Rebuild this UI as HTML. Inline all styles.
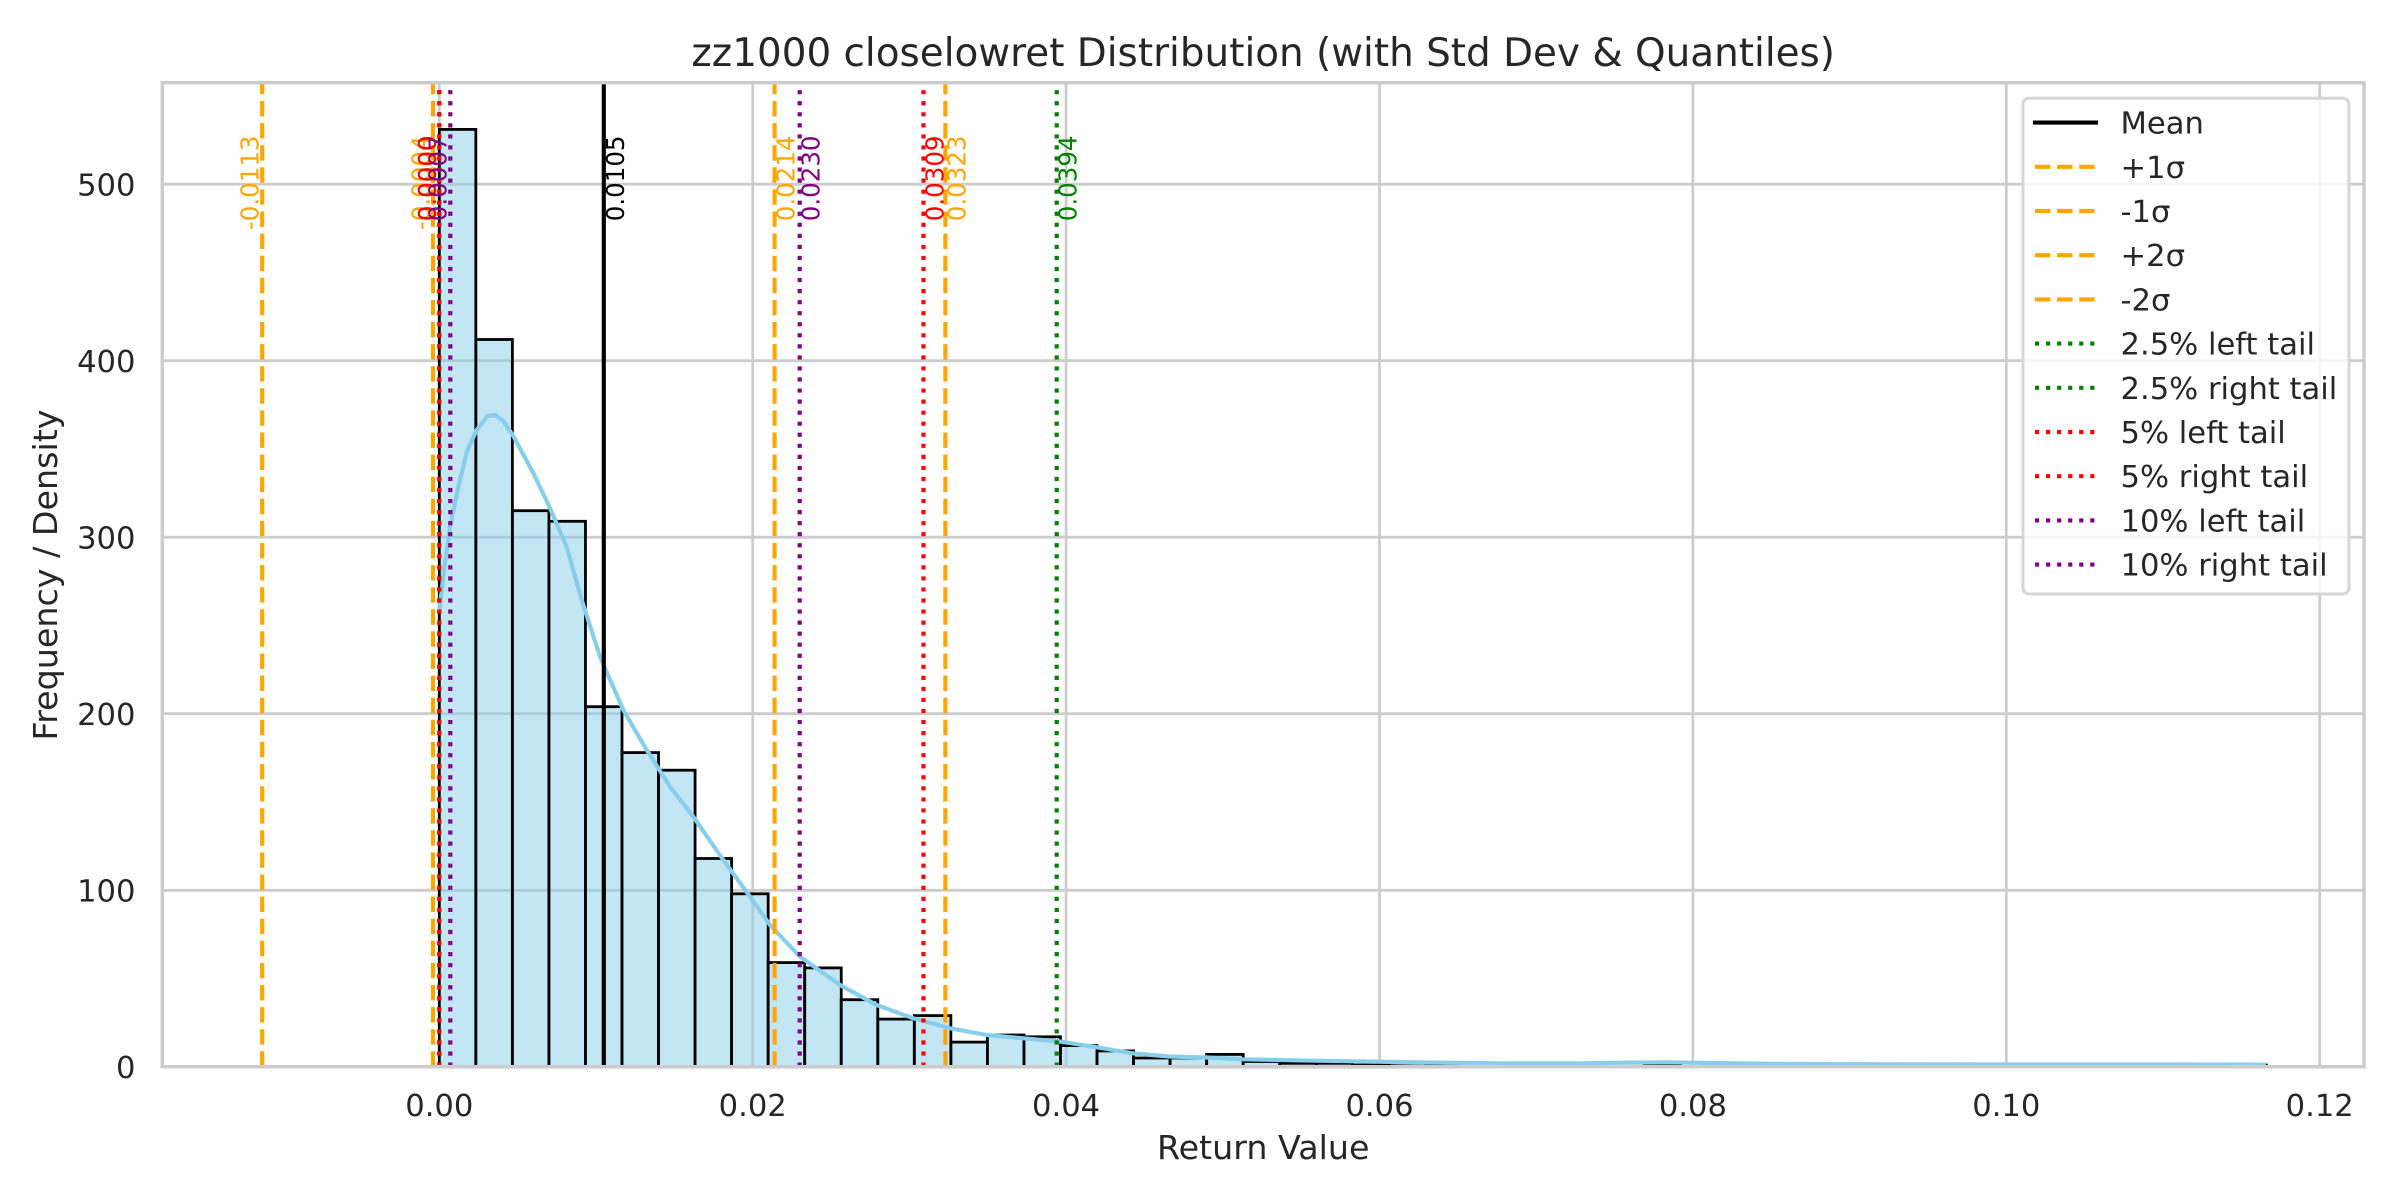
<!DOCTYPE html>
<html>
<head>
<meta charset="utf-8">
<style>
  html,body{margin:0;padding:0;background:#fff;}
  svg{display:block;}
  text{font-family:"DejaVu Sans","Liberation Sans",sans-serif;}
</style>
</head>
<body>
<svg width="2400" height="1200" viewBox="0 0 2400 1200" xmlns="http://www.w3.org/2000/svg">
  <rect x="0" y="0" width="2400" height="1200" fill="#ffffff"/>

  <!-- grid -->
  <g stroke="#cccccc" stroke-width="2.78">
    <line x1="439.3" y1="82.7" x2="439.3" y2="1066.7"/>
    <line x1="752.7" y1="82.7" x2="752.7" y2="1066.7"/>
    <line x1="1066.1" y1="82.7" x2="1066.1" y2="1066.7"/>
    <line x1="1379.5" y1="82.7" x2="1379.5" y2="1066.7"/>
    <line x1="1692.9" y1="82.7" x2="1692.9" y2="1066.7"/>
    <line x1="2006.3" y1="82.7" x2="2006.3" y2="1066.7"/>
    <line x1="2319.7" y1="82.7" x2="2319.7" y2="1066.7"/>
    <line x1="162.3" y1="890.3" x2="2364" y2="890.3"/>
    <line x1="162.3" y1="713.7" x2="2364" y2="713.7"/>
    <line x1="162.3" y1="537.2" x2="2364" y2="537.2"/>
    <line x1="162.3" y1="360.7" x2="2364" y2="360.7"/>
    <line x1="162.3" y1="184.2" x2="2364" y2="184.2"/>
  </g>

  <!-- histogram bars -->
  <g fill="rgb(135,206,235)" fill-opacity="0.5" stroke="#000000" stroke-width="2.8">
    <rect x="439.3" y="129.4" width="36.54" height="937.4"/>
    <rect x="475.84" y="339.5" width="36.54" height="727.3"/>
    <rect x="512.38" y="510.7" width="36.54" height="556.1"/>
    <rect x="548.92" y="521.3" width="36.54" height="545.5"/>
    <rect x="585.46" y="706.7" width="36.54" height="360.1"/>
    <rect x="622.0" y="752.6" width="36.54" height="314.2"/>
    <rect x="658.54" y="770.2" width="36.54" height="296.6"/>
    <rect x="695.08" y="858.5" width="36.54" height="208.3"/>
    <rect x="731.62" y="893.8" width="36.54" height="173.0"/>
    <rect x="768.16" y="962.6" width="36.54" height="104.2"/>
    <rect x="804.7" y="967.9" width="36.54" height="98.9"/>
    <rect x="841.24" y="999.7" width="36.54" height="67.1"/>
    <rect x="877.78" y="1019.1" width="36.54" height="47.7"/>
    <rect x="914.32" y="1015.6" width="36.54" height="51.2"/>
    <rect x="950.86" y="1042.1" width="36.54" height="24.7"/>
    <rect x="987.4" y="1035.0" width="36.54" height="31.8"/>
    <rect x="1023.94" y="1036.8" width="36.54" height="30.0"/>
    <rect x="1060.48" y="1045.6" width="36.54" height="21.2"/>
    <rect x="1097.02" y="1050.9" width="36.54" height="15.9"/>
    <rect x="1133.56" y="1058.0" width="36.54" height="8.8"/>
    <rect x="1170.1" y="1058.0" width="36.54" height="8.8"/>
    <rect x="1206.64" y="1054.4" width="36.54" height="12.4"/>
    <rect x="1243.18" y="1061.5" width="36.54" height="5.3"/>
    <rect x="1279.72" y="1063.3" width="36.54" height="3.5"/>
    <rect x="1316.26" y="1063.3" width="36.54" height="3.5"/>
    <rect x="1352.8" y="1065.0" width="36.54" height="1.8"/>
    <rect x="1389.34" y="1063.3" width="36.54" height="3.5"/>
    <rect x="1425.88" y="1065.0" width="36.54" height="1.8"/>
    <rect x="1462.42" y="1065.0" width="36.54" height="1.8"/>
    <rect x="1644.12" y="1065.0" width="36.54" height="1.8"/>
    <rect x="2229.76" y="1065.0" width="36.54" height="1.8"/>
  </g>

  <!-- KDE -->
  <polyline fill="none" stroke="#87ceeb" stroke-width="4.17" stroke-linejoin="round" stroke-linecap="butt"
    points="439.3,611.7 442,588 445,563 450,527 457,493 466.7,452 476.7,430 487.3,416 495,415 503.3,421 513.3,436 533.3,473 550,508 566.7,547 581.7,600 600,656.7 623.3,710 646.7,750 670,786.7 693.3,816.7 723.3,860 750,896.7 770,925 800,956.7 840,985 876.7,1005 913.3,1018.3 950,1028.3 986.7,1035 1023.3,1038.3 1060,1041.5 1096.7,1047.3 1134.3,1053.5 1169.3,1056.5 1206.7,1057.5 1242.7,1059.3 1315.3,1060.7 1379.3,1061.7 1425.7,1062.5 1500,1063.3 1580,1063.3 1640,1062.5 1670,1062.3 1710,1063 1780,1063.8 1900,1064.3 2266,1064.6"/>

  <!-- vertical reference lines (drawn bottom to top) -->
  <g stroke-width="4.17" fill="none">
    <line x1="603.8" y1="1066.7" x2="603.8" y2="82.7" stroke="#000000"/>
    <line x1="774.6" y1="1066.7" x2="774.6" y2="82.7" stroke="#ffa500" stroke-dasharray="15.4 6.7"/>
    <line x1="433.0" y1="1066.7" x2="433.0" y2="82.7" stroke="#ffa500" stroke-dasharray="15.4 6.7"/>
    <line x1="945.4" y1="1066.7" x2="945.4" y2="82.7" stroke="#ffa500" stroke-dasharray="15.4 6.7"/>
    <line x1="262.2" y1="1066.7" x2="262.2" y2="82.7" stroke="#ffa500" stroke-dasharray="15.4 6.7"/>
    <line x1="439.3" y1="1066.7" x2="439.3" y2="82.7" stroke="#008000" stroke-dasharray="4.17 6.88"/>
    <line x1="1056.7" y1="1066.7" x2="1056.7" y2="82.7" stroke="#008000" stroke-dasharray="4.17 6.88"/>
    <line x1="439.3" y1="1066.7" x2="439.3" y2="82.7" stroke="#ff0000" stroke-dasharray="4.17 6.88"/>
    <line x1="923.5" y1="1066.7" x2="923.5" y2="82.7" stroke="#ff0000" stroke-dasharray="4.17 6.88"/>
    <line x1="450.3" y1="1066.7" x2="450.3" y2="82.7" stroke="#800080" stroke-dasharray="4.17 6.88"/>
    <line x1="799.7" y1="1066.7" x2="799.7" y2="82.7" stroke="#800080" stroke-dasharray="4.17 6.88"/>
  </g>

  <!-- spines -->
  <rect x="162.3" y="82.7" width="2201.7" height="984" fill="none" stroke="#cccccc" stroke-width="3.47"/>

  <!-- rotated value labels -->
  <g font-size="24.5" text-anchor="end">
    <text transform="translate(623.8,135.5) rotate(-90)" fill="#000000">0.0105</text>
    <text transform="translate(794.6,135.5) rotate(-90)" fill="#ffa500">0.0214</text>
    <text transform="translate(429.5,135.5) rotate(-90)" fill="#ffa500">-0.0004</text>
    <text transform="translate(965.4,135.5) rotate(-90)" fill="#ffa500">0.0323</text>
    <text transform="translate(258.7,135.5) rotate(-90)" fill="#ffa500">-0.0113</text>
    <text transform="translate(435.8,135.5) rotate(-90)" fill="#008000">0.0000</text>
    <text transform="translate(1076.7,135.5) rotate(-90)" fill="#008000">0.0394</text>
    <text transform="translate(435.8,135.5) rotate(-90)" fill="#ff0000">0.0000</text>
    <text transform="translate(943.5,135.5) rotate(-90)" fill="#ff0000">0.0309</text>
    <text transform="translate(446.3,135.5) rotate(-90)" fill="#800080">0.0007</text>
    <text transform="translate(819.7,135.5) rotate(-90)" fill="#800080">0.0230</text>
  </g>

  <!-- tick labels -->
  <g font-size="30.6" fill="#262626" text-anchor="middle">
    <text x="439.3" y="1116">0.00</text>
    <text x="752.7" y="1116">0.02</text>
    <text x="1066.1" y="1116">0.04</text>
    <text x="1379.5" y="1116">0.06</text>
    <text x="1692.9" y="1116">0.08</text>
    <text x="2006.3" y="1116">0.10</text>
    <text x="2319.7" y="1116">0.12</text>
  </g>
  <g font-size="30.6" fill="#262626" text-anchor="end">
    <text x="135.5" y="1078">0</text>
    <text x="135.5" y="901.5">100</text>
    <text x="135.5" y="725">200</text>
    <text x="135.5" y="548.4">300</text>
    <text x="135.5" y="371.9">400</text>
    <text x="135.5" y="195.4">500</text>
  </g>

  <!-- axis labels and title -->
  <text x="1263.2" y="1159" font-size="33.3" fill="#262626" text-anchor="middle">Return Value</text>
  <text transform="translate(57,575) rotate(-90)" font-size="33.3" fill="#262626" text-anchor="middle">Frequency / Density</text>
  <text x="1263.2" y="66" font-size="38.9" fill="#262626" text-anchor="middle">zz1000 closelowret Distribution (with Std Dev &amp; Quantiles)</text>

  <!-- legend -->
  <rect x="2023" y="98.3" width="326" height="495.7" rx="6" ry="6" fill="#ffffff" fill-opacity="0.8" stroke="#d6d6d6" stroke-width="3"/>
  <g stroke-width="4.17" fill="none">
    <line x1="2033" y1="122.6" x2="2098" y2="122.6" stroke="#000000"/>
    <line x1="2035" y1="166.8" x2="2096" y2="166.8" stroke="#ffa500" stroke-dasharray="15.4 6.7"/>
    <line x1="2035" y1="211.0" x2="2096" y2="211.0" stroke="#ffa500" stroke-dasharray="15.4 6.7"/>
    <line x1="2035" y1="255.2" x2="2096" y2="255.2" stroke="#ffa500" stroke-dasharray="15.4 6.7"/>
    <line x1="2035" y1="299.4" x2="2096" y2="299.4" stroke="#ffa500" stroke-dasharray="15.4 6.7"/>
    <line x1="2035" y1="343.6" x2="2096" y2="343.6" stroke="#008000" stroke-dasharray="4.17 6.88"/>
    <line x1="2035" y1="387.8" x2="2096" y2="387.8" stroke="#008000" stroke-dasharray="4.17 6.88"/>
    <line x1="2035" y1="432.0" x2="2096" y2="432.0" stroke="#ff0000" stroke-dasharray="4.17 6.88"/>
    <line x1="2035" y1="476.2" x2="2096" y2="476.2" stroke="#ff0000" stroke-dasharray="4.17 6.88"/>
    <line x1="2035" y1="520.4" x2="2096" y2="520.4" stroke="#800080" stroke-dasharray="4.17 6.88"/>
    <line x1="2035" y1="564.6" x2="2096" y2="564.6" stroke="#800080" stroke-dasharray="4.17 6.88"/>
  </g>
  <g font-size="30.6" fill="#262626">
    <text x="2120.5" y="133.6">Mean</text>
    <text x="2120.5" y="177.8">+1σ</text>
    <text x="2120.5" y="222.0">-1σ</text>
    <text x="2120.5" y="266.2">+2σ</text>
    <text x="2120.5" y="310.4">-2σ</text>
    <text x="2120.5" y="354.6">2.5% left tail</text>
    <text x="2120.5" y="398.8">2.5% right tail</text>
    <text x="2120.5" y="443.0">5% left tail</text>
    <text x="2120.5" y="487.2">5% right tail</text>
    <text x="2120.5" y="531.4">10% left tail</text>
    <text x="2120.5" y="575.6">10% right tail</text>
  </g>
</svg>
</body>
</html>
